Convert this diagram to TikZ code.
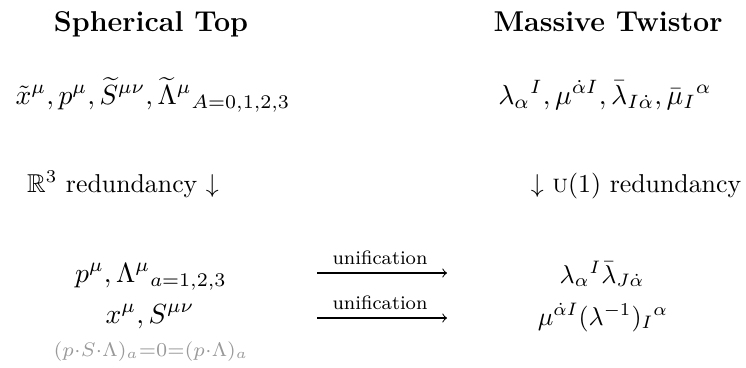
\documentclass[tikz,border=0pt]{standalone}
\usepackage{amsmath,amssymb,graphicx}
\begin{document}
\begin{tikzpicture}[x=0.3871pt,y=-0.3871pt,
  lbl/.style={inner sep=0pt,outer sep=0pt,anchor=base},
  ttl/.style={lbl,font=\fontsize{11.1}{13}\selectfont\bfseries},
  cond/.style={lbl,text=gray!80},
  arrlbl/.style={lbl,font=\fontsize{7.5}{9}\selectfont},
  unif/.style={line width=0.4pt,-to}]
\useasboundingbox (0,0) rectangle (746,367);
\node[ttl] (t1) at (151,31) {Spherical Top};
\node[ttl] (t2) at (608,31) {Massive Twistor};
\node[lbl] (l2) at (153,104) {\scalebox{1.07}{$\tilde x^\mu, p^\mu, \widetilde{S}^{\mu\nu}, \widetilde{\Lambda}^\mu{}_{A=0,1,2,3}$}};
\node[lbl] (r2) at (605,104) {\scalebox{1.07}{$\lambda_\alpha{}^I, \mu^{\dot\alpha I}, \bar\lambda_{I\dot\alpha}, \bar\mu_I{}^\alpha$}};
\node[lbl] (l3) at (123,192) {$\mathbb{R}^3$ redundancy $\downarrow$};
\node[lbl] (r3) at (636,192) {$\downarrow$\ \textsc{u}(1) redundancy};
\node[lbl] (l4) at (151,282) {\scalebox{1.07}{$p^\mu, \Lambda^\mu{}_{a=1,2,3}$}};
\node[lbl] (l5) at (150,323) {\scalebox{1.07}{$x^\mu, S^{\mu\nu}$}};
\node[cond] (l6) at (151,356) {\scalebox{1.09}{$\scriptstyle (p\cdot S\cdot\Lambda)_a=0=(p\cdot\Lambda)_a$}};
\node[lbl] (r4) at (602,283) {$\lambda_\alpha{}^I\bar\lambda_{J\dot\alpha}$};
\node[lbl] (r5) at (603,325) {$\mu^{\dot\alpha I}(\lambda^{-1})_I{}^\alpha$};
\coordinate (a1s) at (317,273);
\coordinate (a1e) at (447,273);
\coordinate (a2s) at (317,318);
\coordinate (a2e) at (447,318);
\draw[unif] (a1s) -- (a1e);
\draw[unif] (a2s) -- (a2e);
\node[arrlbl] (u1) at (380,264) {unification};
\node[arrlbl] (u2) at (380,309) {unification};
\end{tikzpicture}
\end{document}
